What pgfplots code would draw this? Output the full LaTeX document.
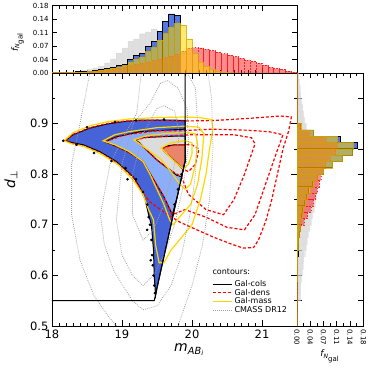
\documentclass[border=0pt]{standalone}
\usepackage{pgfplots}
\pgfplotsset{compat=1.18}
\usepackage{pgfplotstable}
\usepackage{fontspec}
\setmainfont{DejaVu Sans}
\definecolor{cwA}{RGB}{70,100,216}
\definecolor{cwB}{RGB}{140,174,248}
\definecolor{cwC}{RGB}{220,220,220}
\definecolor{cwD}{RGB}{236,132,106}
\definecolor{hblue}{RGB}{65,105,225}
\definecolor{goldc}{RGB}{255,215,0}
\definecolor{dotg}{RGB}{160,160,160}

\pgfplotstableread{
x gray blue yel red
18.0000 0.000 0.001 0.001 0.001
18.0833 0.001 0.001 0.001 0.001
18.1667 0.002 0.001 0.001 0.001
18.2500 0.003 0.002 0.002 0.002
18.3333 0.005 0.003 0.002 0.002
18.4167 0.007 0.004 0.003 0.002
18.5000 0.010 0.005 0.004 0.003
18.5833 0.014 0.007 0.006 0.004
18.6667 0.018 0.010 0.008 0.006
18.7500 0.027 0.012 0.010 0.008
18.8333 0.038 0.016 0.013 0.010
18.9167 0.053 0.020 0.016 0.013
19.0000 0.067 0.024 0.020 0.016
19.0833 0.085 0.036 0.029 0.020
19.1667 0.091 0.046 0.037 0.024
19.2500 0.105 0.053 0.043 0.027
19.3333 0.110 0.071 0.057 0.030
19.4167 0.118 0.085 0.068 0.034
19.5000 0.112 0.110 0.088 0.038
19.5833 0.120 0.139 0.105 0.042
19.6667 0.120 0.158 0.122 0.046
19.7500 0.115 0.155 0.134 0.051
19.8333 0.000 0.000 0.129 0.058
19.9167 0.000 0.000 0.091 0.066
20.0000 0.000 0.000 0.053 0.068
20.0833 0.000 0.000 0.030 0.067
20.1667 0.000 0.000 0.018 0.064
20.2500 0.000 0.000 0.010 0.060
20.3333 0.000 0.000 0.005 0.056
20.4167 0.000 0.000 0.002 0.052
20.5000 0.000 0.000 0.001 0.048
20.5833 0.000 0.000 0.000 0.044
20.6667 0.000 0.000 0.000 0.040
20.7500 0.000 0.000 0.000 0.035
20.8333 0.000 0.000 0.000 0.031
20.9167 0.000 0.000 0.000 0.026
21.0000 0.000 0.000 0.000 0.021
21.0833 0.000 0.000 0.000 0.016
21.1667 0.000 0.000 0.000 0.012
21.2500 0.000 0.000 0.000 0.009
21.3333 0.000 0.000 0.000 0.005
21.4167 0.000 0.000 0.000 0.002
21.5000 0.000 0.000 0.000 0.000
}\toptab

\pgfplotstableread{
y gray blue yel red
0.5000 0.000 0.000 0.000 0.000
0.5125 0.000 0.000 0.000 0.000
0.5250 0.000 0.000 0.000 0.000
0.5375 0.000 0.000 0.000 0.000
0.5500 0.009 0.001 0.000 0.000
0.5625 0.010 0.001 0.000 0.000
0.5750 0.010 0.001 0.000 0.000
0.5875 0.012 0.001 0.001 0.000
0.6000 0.014 0.001 0.001 0.000
0.6125 0.016 0.001 0.001 0.000
0.6250 0.018 0.002 0.001 0.001
0.6375 0.021 0.003 0.002 0.001
0.6500 0.024 0.004 0.003 0.001
0.6625 0.027 0.005 0.004 0.002
0.6750 0.030 0.006 0.006 0.004
0.6875 0.034 0.008 0.008 0.010
0.7000 0.038 0.010 0.010 0.020
0.7125 0.042 0.013 0.013 0.028
0.7250 0.046 0.016 0.017 0.038
0.7375 0.050 0.020 0.022 0.045
0.7500 0.052 0.026 0.028 0.050
0.7625 0.054 0.032 0.035 0.055
0.7750 0.055 0.042 0.045 0.060
0.7875 0.055 0.055 0.055 0.065
0.8000 0.052 0.072 0.072 0.070
0.8125 0.048 0.097 0.097 0.078
0.8250 0.044 0.124 0.124 0.090
0.8375 0.040 0.151 0.149 0.105
0.8500 0.036 0.165 0.152 0.110
0.8625 0.032 0.118 0.108 0.080
0.8750 0.028 0.045 0.043 0.035
0.8875 0.024 0.010 0.012 0.010
0.9000 0.020 0.000 0.000 0.000
0.9125 0.017 0.000 0.000 0.000
0.9250 0.015 0.000 0.000 0.000
0.9375 0.012 0.000 0.000 0.000
0.9500 0.010 0.000 0.000 0.000
0.9625 0.008 0.000 0.000 0.000
0.9750 0.006 0.000 0.000 0.000
0.9875 0.004 0.000 0.000 0.000
1.0000 0.000 0.000 0.000 0.000
}\righttab

\newcommand{\fN}{{\itshape f}\textsubscript{{\itshape N}\textsubscript{\scriptsize gal}}}

\begin{document}
\begin{tikzpicture}
\useasboundingbox (-52pt,-45pt) rectangle (319pt,326pt);
\pgfplotsset{
  common/.style={scale only axis, tick align=inside,
    axis line style={line width=0.9pt},
    every tick/.style={black, line width=0.6pt},
    /pgf/number format/assume math mode=true},
}
% ---------- main panel ----------
\begin{axis}[common, at={(0,0)}, anchor=south west, width=245pt, height=253pt,
  xmin=18, xmax=21.5, ymin=0.5, ymax=1.0,
  xtick={18,19,20,21}, minor x tick num=9,
  ytick={0.5,0.6,0.7,0.8,0.9}, minor ytick={0.55,0.65,0.75,0.85,0.95},
  major tick length=6pt, minor tick length=3pt,
  ticklabel style={font=\fontsize{11.5}{12}\selectfont},
  yticklabel style={/pgf/number format/fixed, /pgf/number format/precision=1, /pgf/number format/fixed zerofill},
  xlabel={\fontsize{14}{14}\selectfont{\itshape m}\textsubscript{{\itshape AB}\textsubscript{\itshape i}}},
  xlabel style={at={(ticklabel cs:0.56)}, anchor=north, yshift=1pt},
  ylabel={\fontsize{14}{14}\selectfont{\itshape d}\textsubscript{⊥}},
  ylabel style={at={(ticklabel cs:0.58)}, anchor=south, yshift=6pt},
  legend style={draw=none, fill=none, at={(axis cs:20.27,0.518)}, anchor=south west,
    font=\fontsize{8}{9}\selectfont, row sep=-3pt, inner sep=1pt},
  legend cell align=left,
  legend image code/.code={\draw[#1] (0pt,0pt) -- (19pt,0pt);},
]
% filled Gal-cols contours
\addplot[fill=cwA, draw=black, line width=1pt, forget plot] coordinates {
(18.19,0.866) (18.30,0.878) (18.54,0.891) (18.78,0.899) (19.02,0.904) (19.26,0.907) (19.5,0.907) (19.73,0.907) (19.9,0.906) (19.9,0.825) (19.82,0.775) (19.7,0.70) (19.6,0.638) (19.5,0.575) (19.48,0.56) (19.46,0.60) (19.45,0.65) (19.42,0.70) (19.38,0.72) (19.33,0.75) (19.25,0.775) (19.16,0.795) (19.0,0.815) (18.92,0.825) (18.69,0.844) (18.45,0.858) (18.3,0.862)} --cycle;
\addplot[fill=cwB, draw=black, line width=1pt, forget plot] coordinates {
(18.76,0.864) (18.9,0.873) (19.02,0.877) (19.26,0.884) (19.5,0.886) (19.9,0.889) (19.9,0.825) (19.8,0.762) (19.72,0.72) (19.6,0.755) (19.45,0.79) (19.3,0.825) (19.1,0.843) (18.95,0.853) (18.85,0.859)} --cycle;
\addplot[fill=cwC, draw=black, line width=1pt, forget plot] coordinates {
(19.19,0.868) (19.3,0.872) (19.4,0.873) (19.73,0.875) (19.9,0.875) (19.9,0.825) (19.85,0.795) (19.78,0.798) (19.69,0.808) (19.5,0.828) (19.35,0.848) (19.25,0.862)} --cycle;
\addplot[fill=cwD, draw=black, line width=1pt, forget plot] coordinates {
(19.57,0.851) (19.65,0.856) (19.75,0.858) (19.9,0.858) (19.9,0.825) (19.87,0.81) (19.8,0.82) (19.7,0.833) (19.62,0.843)} --cycle;
% outlier points
\addplot[only marks, mark=*, mark size=1.1pt, black, forget plot] coordinates {
(18.16,0.866) (18.35,0.858) (18.6,0.842) (18.85,0.826) (19.05,0.812) (19.2,0.79) (19.3,0.765) (19.36,0.74) (19.38,0.715) (19.4,0.7) (19.42,0.67) (19.43,0.64) (19.44,0.62) (19.45,0.6) (19.46,0.58) (19.47,0.565) (18.5,0.893) (18.9,0.903) (19.2,0.906) (19.6,0.908) (19.85,0.8) (19.8,0.77) (19.75,0.74) (19.36,0.69) (19.41,0.63) (19.08,0.79)};
% Gal-dens
\addplot[red, line width=1.2pt, dash pattern=on 3pt off 2pt, forget plot] coordinates {
(18.19,0.866) (18.3,0.879) (18.54,0.892) (18.78,0.9) (19.02,0.905) (19.5,0.907) (19.83,0.905) (20.3,0.906) (20.78,0.91) (21.26,0.915) (21.42,0.913) (21.38,0.885) (21.3,0.85) (21.22,0.8) (21.14,0.75) (21.06,0.71) (20.95,0.67) (20.88,0.655) (20.73,0.654) (20.54,0.663) (20.3,0.676) (20.07,0.69) (19.83,0.705) (19.6,0.725) (19.4,0.745) (19.3,0.762) (19.16,0.793) (18.92,0.823) (18.69,0.842) (18.45,0.856) (18.28,0.861)} --cycle;
\addplot[red, line width=1.2pt, dash pattern=on 3pt off 2pt, forget plot] coordinates {
(18.76,0.864) (19.02,0.877) (19.5,0.886) (19.83,0.886) (20.3,0.889) (20.78,0.887) (21.1,0.884) (21.3,0.878) (21.2,0.84) (21.05,0.78) (20.9,0.72) (20.75,0.69) (20.5,0.695) (20.2,0.715) (19.9,0.73) (19.72,0.72) (19.6,0.755) (19.45,0.79) (19.3,0.825) (19.1,0.843) (18.9,0.857)} --cycle;
\addplot[red, line width=1.2pt, dash pattern=on 3pt off 2pt, forget plot] coordinates {
(19.19,0.868) (19.4,0.874) (19.73,0.876) (20.0,0.878) (20.6,0.878) (20.85,0.872) (20.9,0.86) (20.75,0.8) (20.6,0.75) (20.45,0.72) (20.2,0.73) (19.95,0.76) (19.85,0.795) (19.69,0.808) (19.5,0.828) (19.35,0.848)} --cycle;
\addplot[red, line width=1.2pt, dash pattern=on 3pt off 2pt, forget plot] coordinates {
(19.57,0.851) (19.75,0.858) (20.0,0.858) (20.1,0.85) (20.05,0.82) (19.95,0.805) (19.87,0.81) (19.7,0.833)} --cycle;
% Gal-mass
\addplot[goldc, line width=1.2pt, forget plot] coordinates {
(18.17,0.866) (18.3,0.882) (18.55,0.896) (18.8,0.904) (19.1,0.909) (19.5,0.912) (19.9,0.913) (20.1,0.912) (20.28,0.908) (20.3,0.89) (20.25,0.85) (20.2,0.80) (20.12,0.75) (20.0,0.70) (19.85,0.675) (19.7,0.65) (19.6,0.625) (19.53,0.625) (19.48,0.66) (19.45,0.71) (19.38,0.73) (19.3,0.76) (19.15,0.79) (18.95,0.818) (18.7,0.84) (18.45,0.855) (18.28,0.86)} --cycle;
\addplot[goldc, line width=1.2pt, forget plot] coordinates {
(18.73,0.866) (18.9,0.878) (19.1,0.884) (19.5,0.892) (19.9,0.895) (20.1,0.893) (20.17,0.88) (20.14,0.83) (20.08,0.78) (19.98,0.74) (19.85,0.72) (19.73,0.70) (19.68,0.71) (19.6,0.74) (19.5,0.77) (19.4,0.80) (19.3,0.825) (19.1,0.845) (18.9,0.858)} --cycle;
\addplot[goldc, line width=1.2pt, forget plot] coordinates {
(19.17,0.868) (19.35,0.876) (19.6,0.88) (19.9,0.883) (20.05,0.88) (20.08,0.86) (20.05,0.82) (19.98,0.78) (19.9,0.77) (19.8,0.785) (19.7,0.805) (19.55,0.83) (19.35,0.85)} --cycle;
\addplot[goldc, line width=1.2pt, forget plot] coordinates {
(19.56,0.852) (19.7,0.862) (19.9,0.866) (20.0,0.862) (20.0,0.84) (19.95,0.82) (19.88,0.81) (19.75,0.825)} --cycle;
% CMASS DR12
\addplot[dotg, line width=0.8pt, dash pattern=on 0.8pt off 1.2pt, forget plot] coordinates {
(18.65,1.03) (18.54,1.0) (18.4,0.9) (18.28,0.82) (18.28,0.72) (18.4,0.63) (18.6,0.56) (18.8,0.52) (18.92,0.5) (19.1,0.46) (19.5,0.45) (19.8,0.5) (20.0,0.58) (20.15,0.66) (20.25,0.75) (20.3,0.85) (20.28,0.95) (20.23,1.0) (20.15,1.05)};
\addplot[dotg, line width=0.8pt, dash pattern=on 0.8pt off 1.2pt, forget plot] coordinates {
(19.3,1.03) (19.21,0.92) (19.02,0.874) (18.83,0.82) (18.69,0.72) (18.75,0.66) (18.88,0.61) (19.02,0.578) (19.15,0.55) (19.3,0.532) (19.5,0.54) (19.7,0.58) (19.85,0.64) (19.97,0.72) (20.05,0.8) (20.08,0.9) (20.05,0.97) (19.93,1.0) (19.8,1.03)};
\addplot[dotg, line width=0.8pt, dash pattern=on 0.8pt off 1.2pt, forget plot] coordinates {
(19.55,0.98) (19.4,0.94) (19.16,0.9) (19.0,0.82) (18.92,0.71) (19.0,0.64) (19.15,0.6) (19.3,0.58) (19.45,0.6) (19.6,0.64) (19.75,0.7) (19.88,0.78) (19.95,0.86) (19.93,0.93) (19.8,0.97) (19.65,0.985)} --cycle;
\addplot[dotg, line width=0.8pt, dash pattern=on 0.8pt off 1.2pt, forget plot] coordinates {
(19.5,0.93) (19.3,0.88) (19.15,0.8) (19.15,0.72) (19.3,0.67) (19.45,0.69) (19.6,0.74) (19.75,0.82) (19.82,0.88) (19.75,0.925) (19.6,0.935)} --cycle;
% CMASS selection boundary
\addplot[black, line width=1pt, forget plot] coordinates {(18,0.55) (19.46,0.55) (19.9,0.825) (19.9,1.0)};
% legend
\addlegendimage{black, line width=1.2pt}
\addlegendentry{Gal-cols}
\addlegendimage{red, line width=1.2pt, dash pattern=on 3pt off 2pt}
\addlegendentry{Gal-dens}
\addlegendimage{goldc, line width=1.4pt}
\addlegendentry{Gal-mass}
\addlegendimage{dotg, line width=0.8pt, dash pattern=on 0.8pt off 1.2pt}
\addlegendentry{CMASS DR12}
\node[anchor=west, font=\fontsize{8}{9}\selectfont, inner sep=0pt] at (axis cs:20.29,0.608) {contours:};
\end{axis}

% ---------- top histogram ----------
\begin{axis}[common, at={(0,253pt)}, anchor=south west, width=245pt, height=67.3pt,
  xmin=18, xmax=21.5, ymin=0, ymax=0.18,
  xtick={18,19,20,21}, xticklabels={}, minor x tick num=9,
  ytick={0,0.036,0.072,0.108,0.144,0.18}, yticklabels={0.00,0.04,0.07,0.11,0.14,0.18},
  major tick length=5pt, minor tick length=3pt,
  yticklabel style={font=\fontsize{7}{7}\selectfont},
  ylabel={\fontsize{9}{9}\selectfont\fN},
  ylabel style={at={(ticklabel cs:0.46)}, anchor=south, yshift=2pt},
]
\addplot[ybar interval, fill=gray!50, fill opacity=0.5, draw=gray!30, draw opacity=0.5] table[x=x, y=gray] {\toptab};
\addplot[ybar interval, fill=hblue, fill opacity=0.9, draw=black, line width=0.8pt] table[x=x, y=blue] {\toptab};
\addplot[ybar interval, fill=red, fill opacity=0.45, draw=red, draw opacity=0.8, line width=0.5pt, dash pattern=on 1.5pt off 1.5pt] table[x=x, y=red] {\toptab};
\addplot[ybar interval, fill=goldc, fill opacity=0.55, draw=goldc!80!black, draw opacity=0.8, line width=0.5pt] table[x=x, y=yel] {\toptab};
\end{axis}

% ---------- right histogram ----------
\begin{axis}[common, at={(245pt,0)}, anchor=south west, width=66.3pt, height=253pt,
  xmin=0, xmax=0.18, ymin=0.5, ymax=1.0,
  xtick={0,0.036,0.072,0.108,0.144,0.18}, xticklabels={0.00,0.04,0.07,0.11,0.14,0.18},
  minor x tick num=1,
  ytick={0.5,0.55,...,1.0}, yticklabels={},
  major tick length=5pt, minor tick length=3pt,
  xticklabel style={font=\fontsize{7}{7}\selectfont, rotate=-90, anchor=west},
  xlabel={\fontsize{9}{9}\selectfont\fN},
  xlabel style={yshift=2pt},
]
\addplot[xbar interval, fill=gray!50, fill opacity=0.5, draw=gray!30, draw opacity=0.5] table[y=y, x=gray] {\righttab};
\addplot[xbar interval, fill=hblue, fill opacity=0.9, draw=black, line width=0.8pt] table[y=y, x=blue] {\righttab};
\addplot[xbar interval, fill=red, fill opacity=0.45, draw=red, draw opacity=0.8, line width=0.5pt, dash pattern=on 1.5pt off 1.5pt] table[y=y, x=red] {\righttab};
\addplot[xbar interval, fill=goldc, fill opacity=0.55, draw=goldc!80!black, draw opacity=0.8, line width=0.5pt] table[y=y, x=yel] {\righttab};
\end{axis}
\end{tikzpicture}
\end{document}
